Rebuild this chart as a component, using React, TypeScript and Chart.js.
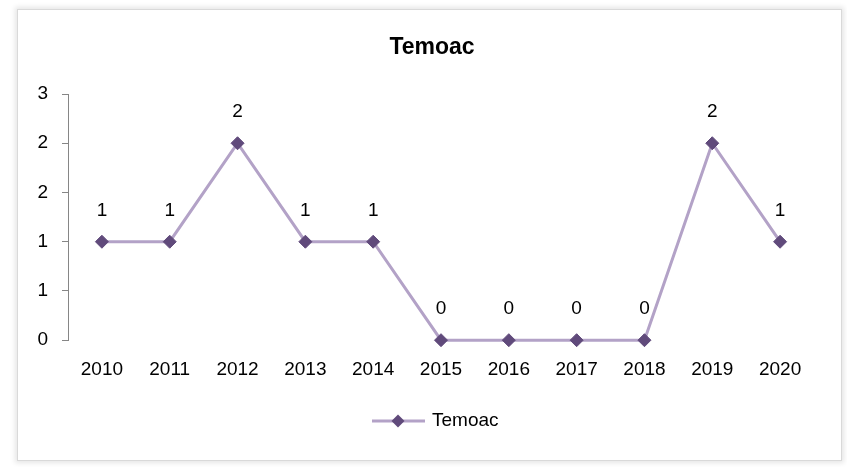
import React, { useEffect, useRef } from "react";
import { Chart, registerables } from "chart.js";

Chart.register(...registerables);

const categories = ["2010", "2011", "2012", "2013", "2014", "2015", "2016", "2017", "2018", "2019", "2020"];
const seriesName = "Temoac";
const values = [1, 1, 2, 1, 1, 0, 0, 0, 0, 2, 1];
const yMin = 0;
const yMax = 2.5;
const yStep = 0.5;

const FONT = "'Liberation Sans', Arial, sans-serif";
const LINE_COLOR = "#b3a2c7";
const POINT_COLOR = "#604a7b";

const dataLabelPlugin = {
  id: "dataLabels",
  afterDatasetsDraw(chart: any) {
    const { ctx } = chart;
    const meta = chart.getDatasetMeta(0);
    ctx.save();
    ctx.font = `19px ${FONT}`;
    ctx.fillStyle = "#000";
    ctx.textAlign = "center";
    ctx.textBaseline = "middle";
    meta.data.forEach((pt: any, i: number) => {
      const v = chart.data.datasets[0].data[i];
      ctx.fillText(String(v), pt.x, pt.y - 31);
    });
    ctx.restore();
  },
};

const titleAndLegendPlugin = {
  id: "titleAndLegend",
  afterDraw(chart: any) {
    const { ctx } = chart;
    ctx.save();
    // title, centred on the chart frame
    const tb = chart.titleBlock;
    ctx.fillStyle = "#000";
    ctx.font = `bold 23px ${FONT}`;
    ctx.textAlign = "center";
    ctx.textBaseline = "middle";
    const ty = tb ? tb.top + 26 + 13.8 : 46;
    ctx.fillText(seriesName, 432, ty);

    // legend
    const y = 421;
    const x0 = 372;
    ctx.strokeStyle = LINE_COLOR;
    ctx.lineWidth = 3;
    ctx.beginPath();
    ctx.moveTo(x0, y);
    ctx.lineTo(x0 + 53, y);
    ctx.stroke();
    const dx = x0 + 26;
    ctx.fillStyle = POINT_COLOR;
    ctx.beginPath();
    ctx.moveTo(dx, y - 6.5);
    ctx.lineTo(dx + 6.5, y);
    ctx.lineTo(dx, y + 6.5);
    ctx.lineTo(dx - 6.5, y);
    ctx.closePath();
    ctx.fill();
    ctx.fillStyle = "#000";
    ctx.font = `19px ${FONT}`;
    ctx.textAlign = "left";
    ctx.fillText(seriesName, x0 + 60, y);
    ctx.restore();
  },
};

export default function App() {
  const canvasRef = useRef<HTMLCanvasElement | null>(null);

  useEffect(() => {
    const canvas = canvasRef.current;
    if (!canvas) return;
    const chart = new Chart(canvas, {
      type: "line",
      data: {
        labels: categories,
        datasets: [
          {
            label: seriesName,
            data: values,
            borderColor: LINE_COLOR,
            backgroundColor: POINT_COLOR,
            borderWidth: 3,
            pointStyle: "rectRot",
            pointRadius: 6.5,
            pointBackgroundColor: POINT_COLOR,
            pointBorderColor: POINT_COLOR,
            pointBorderWidth: 1,
            tension: 0,
            clip: false,
          },
        ],
      },
      options: {
        animation: false,
        responsive: false,
        maintainAspectRatio: false,
        layout: { padding: { left: 20, right: 33, top: 8, bottom: 76 } },
        plugins: {
          legend: { display: false },
          tooltip: { enabled: false },
          title: {
            display: true,
            text: seriesName,
            color: "rgba(0,0,0,0)",
            font: { family: FONT, size: 23, weight: "bold", lineHeight: 1.2 },
            padding: { top: 26, bottom: 32.4 },
          },
        },
        scales: {
          x: {
            offset: true,
            grid: { display: false },
            border: { display: false },
            ticks: {
              color: "#000",
              font: { family: FONT, size: 19 },
              padding: 10,
              maxRotation: 0,
              autoSkip: false,
            },
          },
          y: {
            min: yMin,
            max: yMax,
            afterFit(scale: any) {
              scale.width = 48;
            },
            grid: {
              drawOnChartArea: false,
              drawTicks: true,
              tickLength: 6,
              color: "#868686",
            },
            border: { display: true, color: "#868686", width: 1 },
            ticks: {
              stepSize: yStep,
              color: "#000",
              font: { family: FONT, size: 19 },
              padding: 14,
              callback: (v: any) => String(Math.round(Number(v))),
            },
          },
        },
      },
      plugins: [dataLabelPlugin, titleAndLegendPlugin],
    });
    return () => chart.destroy();
  }, []);

  return (
    <div style={{ position: "fixed", left: 0, top: 0, width: 847, height: 467, background: "#fff" }}>
      <div
        style={{
          position: "absolute",
          left: 17,
          top: 9,
          width: 823,
          height: 450,
          border: "1px solid #d9d9d9",
          boxShadow: "0 0 5px 2px rgba(0,0,0,0.10)",
          background: "#fff",
        }}
      />
      <canvas
        ref={canvasRef}
        width={847}
        height={467}
        style={{ position: "absolute", left: 0, top: 0, width: 847, height: 467 }}
      />
    </div>
  );
}
